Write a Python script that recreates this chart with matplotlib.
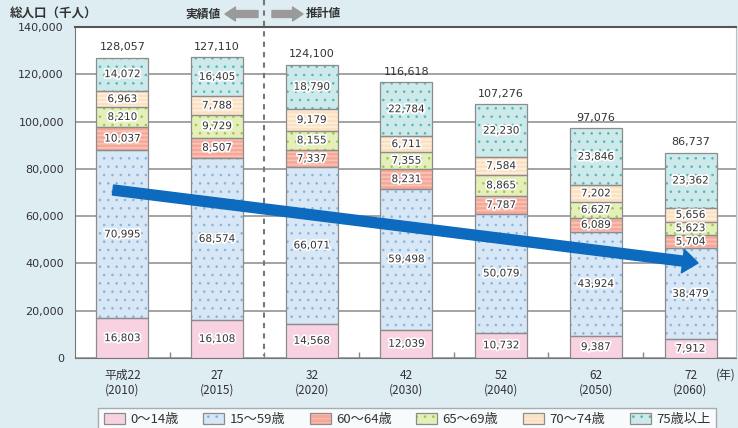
import matplotlib
matplotlib.use('Agg')
import matplotlib.pyplot as plt
import numpy as np
from matplotlib.patches import Patch, FancyArrowPatch
from matplotlib.lines import Line2D
import matplotlib.patheffects as pe

# ---------------- data ----------------
years = ['平成22\n(2010)', '27\n(2015)', '32\n(2020)', '42\n(2030)',
         '52\n(2040)', '62\n(2050)', '72\n(2060)']
age_groups = ['0～14歳', '15～59歳', '60～64歳', '65～69歳', '70～74歳', '75歳以上']
pop_0_14 = [16803, 16108, 14568, 12039, 10732, 9387, 7912]
pop_15_59 = [70995, 68574, 66071, 59498, 50079, 43924, 38479]
pop_60_64 = [10037, 8507, 7337, 8231, 7787, 6089, 5704]
pop_65_69 = [8210, 9729, 8155, 7355, 8865, 6627, 5623]
pop_70_74 = [6963, 7788, 9179, 6711, 7584, 7202, 5656]
pop_75_up = [14072, 16405, 18790, 22784, 22230, 23846, 23362]
totals = [128057, 127110, 124100, 116618, 107276, 97076, 86737]
yticks = [0, 20000, 40000, 60000, 80000, 100000, 120000, 140000]

series = [pop_0_14, pop_15_59, pop_60_64, pop_65_69, pop_70_74, pop_75_up]

# ---------------- style ----------------
CJK = ['Noto Sans CJK JP', 'DejaVu Sans']
BG = '#deedf2'
faces = ['#f9d2e2', '#d7e7f6', '#f6a898', '#e4efb9', '#fde0c2', '#cde9ea']
hatch_colors = [None, '#86b3e0', '#fbc3b6', '#99c94a', '#fff0dc', '#4fb8b8']
hatches = [None, '..', '----', '..', '----', '..']
hatch_lw = [0, 0.6, 1.2, 0.6, 1.2, 0.6]
EDGE = '#8c8c8c'
plt.rcParams['hatch.linewidth'] = 0.7

W, H = 738, 428
fig = plt.figure(figsize=(W / 100, H / 100), dpi=100, facecolor=BG)
ax = fig.add_axes([75 / W, 1 - 358 / H, (736 - 75) / W, (358 - 27) / H])
ax.set_facecolor('white')

x = np.arange(len(years))
bw = 0.55
bottom = np.zeros(len(years))


def make_bar_layers(xs, vals, bots, i):
    ax.bar(xs, vals, bw, bottom=bots, color=faces[i], edgecolor='none', lw=0, zorder=3)
    if hatches[i]:
        bars = ax.bar(xs, vals, bw, bottom=bots, facecolor='none',
                      edgecolor=hatch_colors[i], hatch=hatches[i], lw=0, zorder=3.3)
        for b in bars:
            if hasattr(b, 'set_hatch_linewidth'):
                b.set_hatch_linewidth(hatch_lw[i])
    ax.bar(xs, vals, bw, bottom=bots, facecolor='none', edgecolor=EDGE, lw=0.9, zorder=3.6)


stroke = [pe.withStroke(linewidth=2.5, foreground='white')]
for i, vals in enumerate(series):
    vals = np.array(vals, dtype=float)
    make_bar_layers(x, vals, bottom, i)
    for xi, v, b in zip(x, vals, bottom):
        ax.text(xi, b + v / 2, f'{int(v):,}', ha='center', va='center',
                fontsize=7.5, color='#333333', path_effects=stroke, zorder=6)
    bottom = bottom + vals

for xi, top, t in zip(x, bottom, totals):
    ax.annotate(f'{t:,}', (xi, top), xytext=(0, 4), textcoords='offset points',
                ha='center', va='bottom', fontsize=8, color='#333333', zorder=6)

# axes
ax.set_ylim(0, 140000)
ax.set_xlim(-0.5, 6.48)
ax.set_yticks(yticks)
ax.set_yticklabels([f'{v:,}' for v in yticks])
ax.yaxis.grid(True, color='#8a8a8a', lw=1.1)
ax.set_axisbelow(True)
ax.tick_params(axis='y', length=0, pad=8, labelsize=8, labelcolor='#333333')
ax.set_xticks(x)
ax.set_xticklabels(years, fontsize=8.5, color='#333333', family=CJK, linespacing=1.1)
ax.tick_params(axis='x', which='major', length=0, pad=8)
ax.set_xticks(x[:-1] + 0.5, minor=True)
ax.tick_params(axis='x', which='minor', length=4, direction='in', color='#888888', width=1)

ax.spines['top'].set_color('#555555')
ax.spines['top'].set_linewidth(1.5)
ax.spines['left'].set_color('#777777')
ax.spines['bottom'].set_color('#777777')
ax.spines['right'].set_color('#c0c0c0')

# dashed divider (actual / projected)
fig.add_artist(Line2D([264 / W, 264 / W], [1, 1 - 356 / H], transform=fig.transFigure,
                      color='#777777', lw=1.5, ls=(0, (2.5, 2.5)), zorder=2))

# header texts
yh = 1 - 14 / H
fig.text(10 / W, yh, '総人口（千人）', fontsize=9, fontweight='bold', family=CJK,
         color='#333333', va='center', ha='left')
fig.text(221 / W, yh, '実績値', fontsize=8.5, fontweight='bold', family=CJK,
         color='#333333', va='center', ha='right')
fig.text(306 / W, yh, '推計値', fontsize=8.5, fontweight='bold', family=CJK,
         color='#333333', va='center', ha='left')
for a, b in [((258, 14), (225, 14)), ((272, 14), (303, 14))]:
    fig.add_artist(FancyArrowPatch((a[0] / W, 1 - a[1] / H), (b[0] / W, 1 - b[1] / H),
                                   transform=fig.transFigure,
                                   arrowstyle='simple,tail_width=0.5,head_width=1.0,head_length=0.75',
                                   mutation_scale=10, color='#9a9a9a', shrinkA=0, shrinkB=0))

# decreasing trend arrow
fig.add_artist(FancyArrowPatch((113 / W, 1 - 190 / H), (698 / W, 1 - 263 / H),
                               transform=fig.transFigure,
                               arrowstyle='simple,tail_width=0.72,head_width=1.7,head_length=1.1',
                               mutation_scale=10, color='#0c6bbf', shrinkA=0, shrinkB=0,
                               zorder=10))

fig.text(726 / W, 1 - 375 / H, '(年)', fontsize=8.5, family=CJK, color='#333333',
         ha='center', va='center')

# legend
handles = []
for i in range(len(series)):
    parts = [Patch(facecolor=faces[i], edgecolor='none', lw=0)]
    if hatches[i]:
        hp = Patch(facecolor='none', edgecolor=hatch_colors[i], hatch=hatches[i], lw=0)
        if hasattr(hp, 'set_hatch_linewidth'):
            hp.set_hatch_linewidth(hatch_lw[i])
        parts.append(hp)
    parts.append(Patch(facecolor='none', edgecolor=EDGE, lw=0.9))
    handles.append(tuple(parts))

leg = fig.legend(handles, age_groups, loc='upper center', bbox_to_anchor=(407 / W, 1 - 401 / H),
                 ncol=6, frameon=True, fancybox=False, edgecolor='#999999',
                 prop={'family': CJK, 'size': 9.5}, handlelength=1.6, handleheight=0.95,
                 handletextpad=0.4, columnspacing=1.85, borderpad=0.4, labelcolor='#333333')
leg.get_frame().set_linewidth(1.0)
leg.get_frame().set_facecolor('white')

fig.savefig('out.png', dpi=100, facecolor=BG)
